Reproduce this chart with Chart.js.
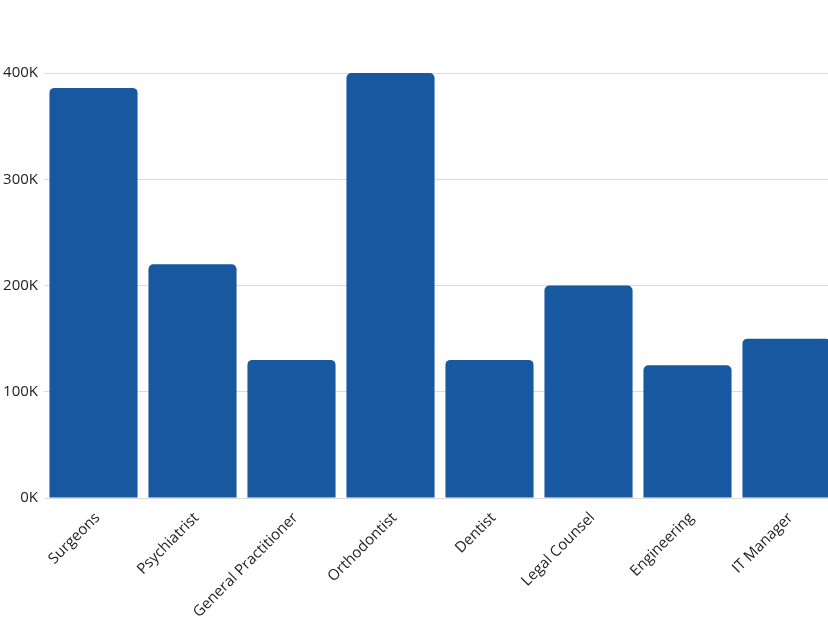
<!DOCTYPE html>
<html>
<head>
<meta charset="utf-8">
<script src="https://cdn.jsdelivr.net/npm/chart.js@4/dist/chart.umd.min.js"></script>
<style>
    html, body { margin: 0; padding: 0; background: #fff; overflow: hidden; }
    #wrap { width: 836px; height: 621px; }
</style>
</head>
<body>
<div id="wrap"><canvas id="salaryChart"></canvas></div>
<script>
// Gaji per profesi
const categories = ['Surgeons', 'Psychiatrist', 'General Practitioner', 'Orthodontist', 'Dentist', 'Legal Counsel', 'Engineering', 'IT Manager'];
const salaries = [386000, 220000, 130000, 400000, 130000, 200000, 125000, 150000];
const yTicks = [0, 100000, 200000, 300000, 400000];

const ctx = document.getElementById('salaryChart').getContext('2d');
const salaryChart = new Chart(ctx, {
    type: 'bar',
    data: {
        labels: categories,
        datasets: [{
            data: salaries,
            backgroundColor: '#1858a0',
            borderRadius: 5,
            barPercentage: 0.89,
            categoryPercentage: 1.0
        }]
    },
    options: {
        responsive: true,
        maintainAspectRatio: false,
        animation: false,
        layout: {
            padding: { top: 73, left: 0, right: 0, bottom: 0 }
        },
        plugins: {
            legend: { display: false },
            tooltip: { enabled: false }
        },
        scales: {
            x: {
                grid: { display: false },
                border: { display: false },
                ticks: {
                    color: '#222',
                    font: { family: 'Open Sans', size: 15 },
                    maxRotation: 45,
                    minRotation: 45,
                    padding: 3,
                    labelOffset: 4
                },
                afterFit: function (scale) { scale.height = 123; }
            },
            y: {
                min: 0,
                max: 400000,
                afterBuildTicks: function (scale) {
                    scale.ticks = yTicks.map(v => ({ value: v }));
                },
                grid: {
                    color: '#dcdcdc',
                    drawTicks: false
                },
                border: { display: false },
                ticks: {
                    color: '#222',
                    font: { family: 'Open Sans', size: 15 },
                    padding: 6,
                    callback: v => (v / 1000) + 'K'
                },
                afterFit: function (scale) { scale.width = 44; }
            }
        }
    }
});
</script>
</body>
</html>
